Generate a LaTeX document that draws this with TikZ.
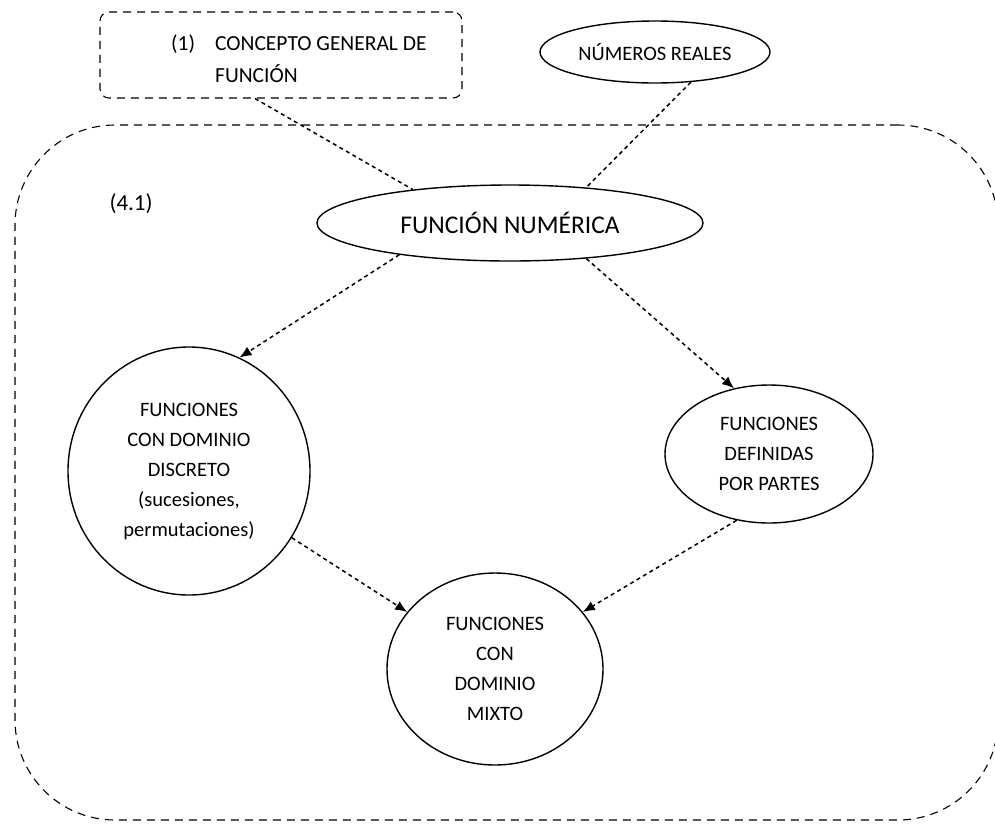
\documentclass[tikz,border=0pt]{standalone}
\usepackage{fontspec}
\setmainfont{Carlito}
\usetikzlibrary{shapes.geometric,arrows.meta,calc}
\begin{document}
\begin{tikzpicture}[x=1pt,y=-1pt,
  frame/.style={draw, line width=1.1pt, dash pattern=on 8pt off 6pt},
  oval/.style={draw, ellipse, line width=1.4pt, inner sep=0pt, align=center},
  conn/.style={line width=1.5pt, dash pattern=on 4pt off 3.5pt},
  arr/.style={conn, -{Latex[length=12pt,width=10pt]}},
  lbl/.style={font=\fontsize{20.5}{30}\selectfont, align=center}
]
\useasboundingbox (0,0) rectangle (995,823);

% outer frame of section 4.1
\node[frame, rounded corners=100pt, minimum width=983pt, minimum height=695pt, inner sep=0pt]
  (sec) at (506.5,472.5) {};
\node[font=\fontsize{23}{28}\selectfont, anchor=west] (secnum) at (106,204) {(4.1)};

% reference box (1)
\node[frame, rounded corners=9pt, minimum width=362pt, minimum height=86pt, inner sep=0pt]
  (top) at (281,55) {};
\node[anchor=north west, inner sep=0pt, font=\fontsize{21.5}{32}\selectfont] (toptext) at (171,28)
  {\begin{tabular}{@{}l@{\hspace{20pt}}l@{}}(1) & CONCEPTO GENERAL DE\\ & FUNCIÓN\end{tabular}};

% concept nodes
\node[oval, minimum width=230pt, minimum height=62pt, font=\fontsize{20.5}{26}\selectfont]
  (nr) at (655,52) {NÚMEROS REALES};
\node[oval, minimum width=386pt, minimum height=76pt, font=\fontsize{25.5}{30}\selectfont]
  (fn) at (510,223) {FUNCIÓN NUMÉRICA};
\node[oval, minimum width=242pt, minimum height=248pt, lbl]
  (disc) at (189,471) {FUNCIONES\\CON DOMINIO\\DISCRETO\\(sucesiones,\\permutaciones)};
\node[oval, minimum width=208pt, minimum height=138pt, lbl]
  (part) at (769,454) {FUNCIONES\\DEFINIDAS\\POR PARTES};
\node[oval, minimum width=216pt, minimum height=192pt, lbl]
  (mix) at (495,669) {FUNCIONES\\CON\\DOMINIO\\MIXTO};

% connectors
\draw[conn] ($(top.south)+(-26,0)$) -- (fn.161);
\draw[conn] (nr.320) -- (fn.25);
\draw[arr] (fn.196) -- (disc.66);
\draw[arr] (fn.335) -- (part.118);
\draw[arr] (disc.327) -- (mix.147);
\draw[arr] (part.244) -- (mix.33);
\end{tikzpicture}
\end{document}
